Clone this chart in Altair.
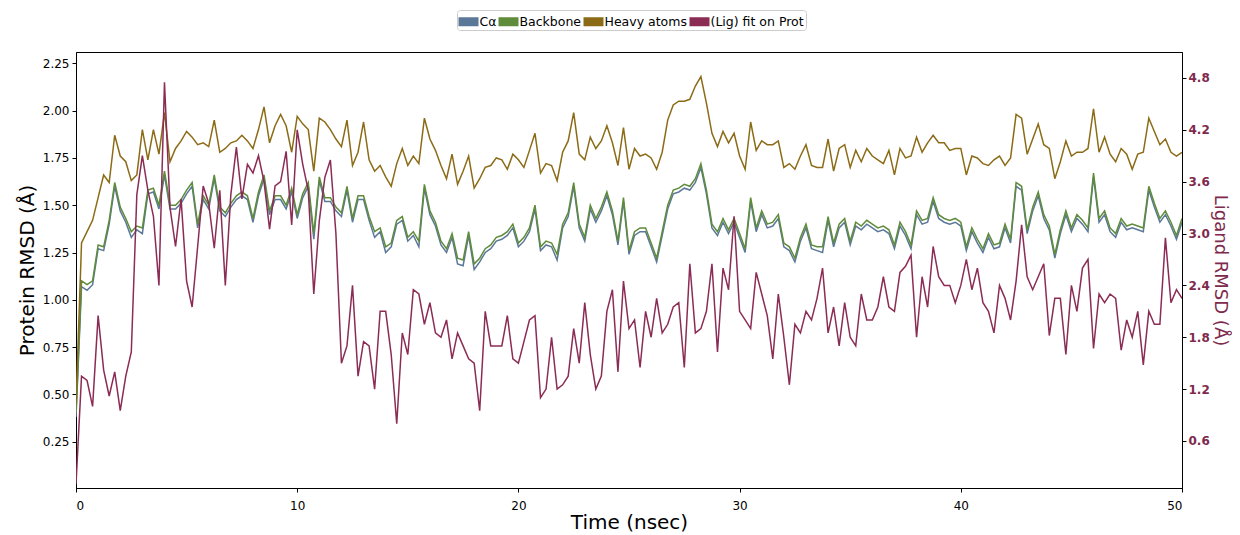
import altair as alt
import pandas as pd

series_names = ["Cα", "Backbone", "Heavy atoms", "(Lig) fit on Prot"]
series_colors = ["#5b7898", "#5e8c3a", "#8b6b16", "#8b2c55"]

time_ns = [i * 0.25 for i in range(201)]

ca = [
    0.38, 1.07, 1.05, 1.08, 1.27, 1.26, 1.40, 1.60, 1.47, 1.41, 1.33, 1.37,
    1.35, 1.56, 1.57, 1.48, 1.66, 1.48, 1.48, 1.51, 1.56, 1.60, 1.38, 1.53,
    1.48, 1.64, 1.47, 1.44, 1.49, 1.53, 1.55, 1.53, 1.41, 1.55, 1.64, 1.45,
    1.53, 1.53, 1.48, 1.57, 1.43, 1.54, 1.60, 1.32, 1.63, 1.52, 1.52, 1.47,
    1.44, 1.58, 1.41, 1.53, 1.53, 1.42, 1.33, 1.36, 1.25, 1.28, 1.40, 1.42,
    1.31, 1.34, 1.28, 1.59, 1.45, 1.39, 1.29, 1.25, 1.33, 1.19, 1.18, 1.34,
    1.16, 1.20, 1.25, 1.27, 1.31, 1.32, 1.34, 1.38, 1.28, 1.31, 1.36, 1.48,
    1.26, 1.29, 1.28, 1.21, 1.38, 1.44, 1.60, 1.38, 1.31, 1.48, 1.41, 1.47,
    1.55, 1.45, 1.29, 1.52, 1.24, 1.34, 1.36, 1.36, 1.28, 1.20, 1.34, 1.48,
    1.56, 1.57, 1.59, 1.58, 1.62, 1.70, 1.56, 1.38, 1.34, 1.41, 1.35, 1.41,
    1.33, 1.25, 1.52, 1.36, 1.45, 1.38, 1.39, 1.43, 1.28, 1.26, 1.20, 1.31,
    1.38, 1.27, 1.26, 1.25, 1.42, 1.28, 1.38, 1.41, 1.29, 1.39, 1.37, 1.40,
    1.38, 1.36, 1.37, 1.35, 1.27, 1.39, 1.34, 1.27, 1.45, 1.40, 1.41, 1.52,
    1.43, 1.41, 1.40, 1.41, 1.39, 1.26, 1.36, 1.30, 1.25, 1.33, 1.27, 1.28,
    1.38, 1.30, 1.60, 1.58, 1.35, 1.47, 1.55, 1.43, 1.37, 1.22, 1.35, 1.45,
    1.36, 1.43, 1.40, 1.36, 1.65, 1.41, 1.45, 1.36, 1.33, 1.41, 1.37, 1.38,
    1.37, 1.36, 1.58, 1.49, 1.41, 1.45, 1.39, 1.32, 1.41,
]

backbone = [
    0.40, 1.10, 1.08, 1.10, 1.29, 1.28, 1.42, 1.62, 1.49, 1.43, 1.36, 1.39,
    1.38, 1.58, 1.59, 1.50, 1.68, 1.50, 1.50, 1.53, 1.58, 1.62, 1.40, 1.55,
    1.50, 1.66, 1.49, 1.46, 1.51, 1.55, 1.57, 1.55, 1.43, 1.57, 1.66, 1.47,
    1.55, 1.55, 1.50, 1.59, 1.45, 1.56, 1.62, 1.35, 1.65, 1.54, 1.54, 1.49,
    1.46, 1.60, 1.43, 1.55, 1.55, 1.44, 1.36, 1.38, 1.28, 1.30, 1.42, 1.44,
    1.33, 1.36, 1.31, 1.61, 1.47, 1.41, 1.31, 1.27, 1.35, 1.22, 1.21, 1.36,
    1.19, 1.22, 1.27, 1.29, 1.33, 1.34, 1.36, 1.40, 1.30, 1.33, 1.38, 1.50,
    1.28, 1.31, 1.30, 1.24, 1.40, 1.46, 1.62, 1.40, 1.33, 1.50, 1.43, 1.49,
    1.57, 1.47, 1.31, 1.54, 1.26, 1.36, 1.38, 1.38, 1.30, 1.22, 1.36, 1.50,
    1.58, 1.59, 1.61, 1.60, 1.64, 1.72, 1.58, 1.40, 1.36, 1.43, 1.37, 1.43,
    1.35, 1.27, 1.54, 1.38, 1.47, 1.40, 1.41, 1.45, 1.30, 1.28, 1.22, 1.33,
    1.40, 1.29, 1.28, 1.28, 1.44, 1.30, 1.40, 1.43, 1.31, 1.41, 1.39, 1.42,
    1.40, 1.38, 1.39, 1.37, 1.29, 1.41, 1.36, 1.29, 1.47, 1.42, 1.43, 1.54,
    1.45, 1.43, 1.42, 1.43, 1.41, 1.28, 1.38, 1.32, 1.27, 1.35, 1.29, 1.30,
    1.40, 1.32, 1.62, 1.60, 1.37, 1.49, 1.57, 1.45, 1.39, 1.24, 1.37, 1.47,
    1.38, 1.45, 1.42, 1.38, 1.67, 1.43, 1.47, 1.38, 1.35, 1.43, 1.39, 1.40,
    1.39, 1.38, 1.60, 1.51, 1.43, 1.47, 1.41, 1.34, 1.43,
]

heavy = [
    0.45, 1.30, 1.36, 1.42, 1.54, 1.66, 1.62, 1.87, 1.76, 1.73, 1.63, 1.66,
    1.90, 1.74, 1.90, 1.77, 1.99, 1.73, 1.80, 1.84, 1.89, 1.86, 1.82, 1.83,
    1.81, 1.95, 1.78, 1.80, 1.83, 1.84, 1.87, 1.84, 1.80, 1.90, 2.02, 1.83,
    1.92, 1.98, 1.92, 1.78, 1.97, 1.93, 1.90, 1.68, 1.96, 1.94, 1.90, 1.85,
    1.81, 1.95, 1.71, 1.78, 1.94, 1.74, 1.68, 1.71, 1.65, 1.60, 1.72, 1.80,
    1.71, 1.76, 1.72, 1.96, 1.85, 1.79, 1.71, 1.64, 1.77, 1.61, 1.68, 1.76,
    1.59, 1.64, 1.70, 1.71, 1.75, 1.74, 1.69, 1.77, 1.74, 1.70, 1.79, 1.88,
    1.67, 1.72, 1.71, 1.63, 1.78, 1.84, 1.99, 1.77, 1.74, 1.86, 1.80, 1.84,
    1.92, 1.83, 1.71, 1.91, 1.69, 1.80, 1.76, 1.77, 1.75, 1.69, 1.78, 1.95,
    2.03, 2.05, 2.05, 2.06, 2.13, 2.18, 2.04, 1.88, 1.81, 1.89, 1.83, 1.88,
    1.76, 1.69, 1.94, 1.79, 1.84, 1.82, 1.82, 1.84, 1.70, 1.72, 1.69, 1.76,
    1.82, 1.71, 1.70, 1.70, 1.85, 1.68, 1.80, 1.82, 1.70, 1.79, 1.73, 1.80,
    1.76, 1.74, 1.72, 1.79, 1.66, 1.80, 1.75, 1.76, 1.86, 1.78, 1.83, 1.87,
    1.83, 1.83, 1.79, 1.80, 1.80, 1.66, 1.76, 1.75, 1.72, 1.71, 1.74, 1.76,
    1.71, 1.75, 1.98, 1.96, 1.77, 1.85, 1.93, 1.82, 1.80, 1.64, 1.73, 1.84,
    1.76, 1.78, 1.78, 1.80, 2.01, 1.78, 1.86, 1.77, 1.73, 1.80, 1.77, 1.69,
    1.77, 1.78, 1.96, 1.89, 1.82, 1.85, 1.78, 1.76, 1.78,
]

ligand = [
    0.10, 1.35, 1.30, 1.00, 2.05, 1.42, 1.12, 1.40, 0.95, 1.35, 1.63, 3.45,
    3.90, 3.50, 3.20, 2.40, 4.75, 3.30, 2.85, 3.40, 2.45, 2.15, 2.85, 3.55,
    3.35, 2.83, 3.50, 2.40, 3.45, 4.00, 3.40, 3.80, 3.70, 3.90, 3.60, 3.05,
    3.55, 3.60, 3.95, 3.10, 4.20, 3.80, 3.50, 2.30, 3.15, 3.65, 3.85, 3.00,
    1.50, 1.70, 2.40, 1.35, 1.75, 1.70, 1.20, 2.10, 2.10, 1.60, 0.80, 1.85,
    1.60, 2.35, 2.30, 1.95, 2.20, 1.85, 1.80, 2.00, 1.55, 1.85, 1.70, 1.55,
    1.50, 0.95, 2.10, 1.70, 1.70, 1.70, 2.05, 1.55, 1.50, 1.75, 2.00, 2.05,
    1.10, 1.20, 1.80, 1.20, 1.25, 1.35, 1.90, 1.50, 2.20, 1.60, 1.20, 1.35,
    2.10, 2.35, 1.40, 2.45, 1.90, 2.00, 1.45, 2.10, 1.80, 2.25, 1.85, 1.95,
    2.15, 2.20, 1.45, 2.65, 1.85, 1.90, 2.10, 2.65, 1.63, 2.60, 2.35, 3.20,
    2.10, 2.00, 1.90, 2.55, 2.30, 2.05, 1.55, 2.30, 1.80, 1.25, 1.95, 1.85,
    2.10, 2.00, 2.25, 2.60, 1.85, 2.15, 1.70, 2.20, 1.80, 1.70, 2.30, 2.00,
    2.00, 2.15, 2.50, 2.15, 2.10, 2.55, 2.62, 2.75, 1.80, 2.50, 2.15, 2.85,
    2.50, 2.40, 2.40, 2.20, 2.40, 2.70, 2.35, 2.60, 2.20, 2.10, 1.85, 2.40,
    2.25, 2.00, 2.45, 3.10, 2.50, 2.35, 2.50, 2.65, 1.82, 2.25, 2.25, 1.60,
    2.40, 2.10, 2.60, 2.70, 1.67, 2.30, 2.20, 2.30, 2.25, 1.65, 2.00, 1.80,
    2.10, 1.48, 2.10, 1.95, 1.95, 2.95, 2.20, 2.35, 2.25,
]

protein_ticks = [0.25, 0.50, 0.75, 1.00, 1.25, 1.50, 1.75, 2.00, 2.25]
ligand_ticks = [0.6, 1.2, 1.8, 2.4, 3.0, 3.6, 4.2, 4.8]
time_ticks = [0, 10, 20, 30, 40, 50]

rows = []
for name, vals in zip(series_names, [ca, backbone, heavy, ligand]):
    for t, v in zip(time_ns, vals):
        rows.append({"time": t, "series": name, "value": v})
df = pd.DataFrame(rows)

lig_color = "#7e2a4c"
rect_shape = "M-1,-0.45H1V0.45H-1Z"

legend = alt.Legend(
    orient="none", legendX=381, legendY=-42, direction="horizontal", title=None,
    symbolType=rect_shape, symbolSize=400, symbolStrokeWidth=0,
    symbolOpacity=1,
    labelFontSize=12.5, labelFont="DejaVu Sans", labelColor="black",
    labelOffset=1, columnPadding=2, padding=1.5,
    strokeColor="#cccccc", cornerRadius=3, fillColor="white",
)
color_enc = alt.Color(
    "series:N",
    scale=alt.Scale(domain=series_names, range=series_colors),
    sort=series_names,
    legend=legend,
)

x_enc = alt.X(
    "time:Q",
    scale=alt.Scale(domain=[0, 50], nice=False),
    axis=alt.Axis(values=time_ticks, title="Time (nsec)", format="d",
                  labelPadding=8, titlePadding=1),
)

y_prot = alt.Y(
    "value:Q",
    scale=alt.Scale(domain=[0.005, 2.31], nice=False, zero=False),
    axis=alt.Axis(values=protein_ticks, format=".2f", title="Protein RMSD (Å)",
                  titlePadding=5),
)
y_lig = alt.Y(
    "value:Q",
    scale=alt.Scale(domain=[0.056, 5.10], nice=False, zero=False),
    axis=alt.Axis(values=ligand_ticks, format=".1f", title="Ligand RMSD (Å)",
                  orient="right", labelColor=lig_color, labelFontWeight="bold",
                  titleColor=lig_color, titlePadding=1, titleFontSize=18,
                  labelPadding=2),
)

base = alt.Chart(df)

# invisible filled points: only used so the shared colour legend shows filled swatches
legend_keys = base.mark_point(
    filled=True, opacity=0, shape=rect_shape, size=1, clip=True
).encode(x=x_enc, y=y_prot, color=color_enc)


def line_layer(name, y_enc):
    return (
        base.transform_filter(alt.datum.series == name)
        .mark_line(strokeWidth=1.5, clip=True)
        .encode(x=x_enc, y=y_enc, color=color_enc)
    )


protein = alt.layer(
    legend_keys,
    line_layer(series_names[0], y_prot),
    line_layer(series_names[1], y_prot),
    line_layer(series_names[2], y_prot),
)
lig_layer = line_layer(series_names[3], y_lig)

chart = (
    alt.layer(protein, lig_layer)
    .resolve_scale(y="independent")
    .properties(
        width=1106, height=436, autosize="none",
        padding={"left": 68, "top": 44, "right": 50, "bottom": 45},
    )
    .configure(font="DejaVu Sans")
    .configure_view(stroke="black", strokeWidth=1)
    .configure_axis(
        grid=False, domainColor="black", tickColor="black", labelColor="black",
        labelFontSize=12, titleFontSize=20, titleFontWeight="normal",
        titleColor="black", tickSize=4, labelPadding=3,
        labelFont="DejaVu Sans", titleFont="DejaVu Sans",
    )
)

chart.save("out.html", embed_options={"renderer": "svg", "actions": False})
